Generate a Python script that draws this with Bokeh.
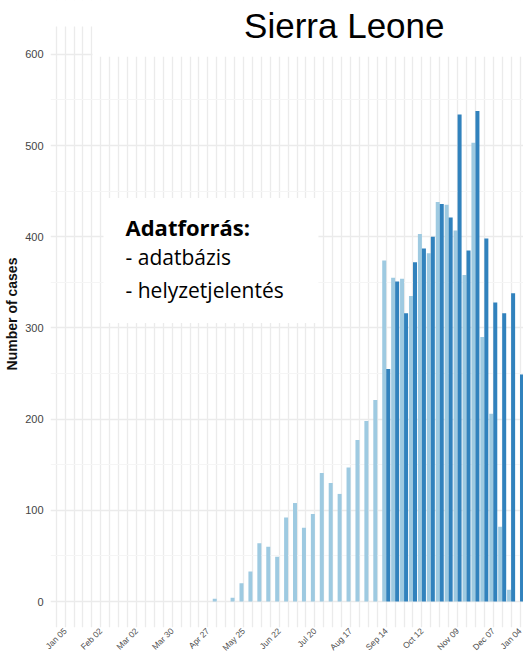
from math import pi
from bokeh.plotting import figure
from bokeh.models import FixedTicker, Range1d, BoxAnnotation, Label, ColumnDataSource
from bokeh.transform import dodge
from bokeh.embed import file_html
from bokeh.resources import INLINE

# ---- data -------------------------------------------------------------
week_labels = ["Jan 05", "Feb 02", "Mar 02", "Mar 30", "Apr 27", "May 25", "Jun 22",
               "Jul 20", "Aug 17", "Sep 14", "Oct 12", "Nov 09", "Dec 07", "Jan 04"]
weeks = list(range(52))          # week 0 = Jan 05 (2014)
database = [0] * 17 + [3, 0, 4, 20, 33, 64, 60, 49, 92, 108, 81, 96, 141, 130, 118, 147,
                       177, 198, 221, 374, 355, 354, 335, 403, 382, 438, 435, 407, 358,
                       503, 290, 206, 82, 13, None]
sitrep = [None] * 36 + [255, 351, 316, 372, 387, 400, 436, 421, 534, 385, 538, 398,
                        328, 316, 338, 249]
y_ticks = [0, 100, 200, 300, 400, 500, 600]
y_minor = [50, 150, 250, 350, 450, 550]
title_text = "Sierra Leone"
legend_title = "Adatforrás:"
legend_items = ["-  adatbázis", "-  helyzetjelentés"]
y_label = "Number of cases"

LIGHT = "#9ecae1"
DARK = "#3182bd"
GRID = "#ebebeb"

X0, X1 = -1.64, 51.39
Y_PANEL_TOP = 630.7
p = figure(width=523, height=659,
           x_range=Range1d(X0, X1), y_range=Range1d(-28.5, 659.1),
           output_backend="svg", toolbar_location=None,
           min_border_left=50, min_border_right=0, min_border_top=0, min_border_bottom=31)
p.outline_line_color = None
p.background_fill_color = "white"

db_src = ColumnDataSource(dict(week=[w for w, v in zip(weeks, database) if v is not None],
                               cases=[v for v in database if v is not None]))
sr_src = ColumnDataSource(dict(week=[w for w, v in zip(weeks, sitrep) if v is not None],
                               cases=[v for v in sitrep if v is not None]))
p.vbar(x=dodge("week", -0.225, range=p.x_range), top="cases", width=0.45, source=db_src,
       fill_color=LIGHT, line_color=None)
p.vbar(x=dodge("week", 0.225, range=p.x_range), top="cases", width=0.45, source=sr_src,
       fill_color=DARK, line_color=None)

# axes
last_tick = 51.3   # "Jan 04" lies just past the right edge; its label is kept at the edge
tick_pos = [4 * k for k in range(len(week_labels) - 1)] + [last_tick]
xa = p.xaxis[0]
xa.ticker = FixedTicker(ticks=tick_pos)
xa.major_label_overrides = {t: lab for t, lab in zip(tick_pos, week_labels)}
xa.major_label_orientation = pi / 4
xa.major_label_text_font = "Liberation Sans"
xa.major_label_text_font_size = "8.5px"
xa.major_label_text_color = "#4d4d4d"
xa.major_label_standoff = 2
xa.major_tick_out = 0
xa.major_tick_in = 0
xa.minor_tick_out = 0
xa.minor_tick_in = 0
xa.axis_line_color = None
xa.major_tick_line_color = None
xa.minor_tick_line_color = None

ya = p.yaxis[0]
ya.ticker = FixedTicker(ticks=y_ticks)
ya.major_label_text_font = "Liberation Sans"
ya.major_label_text_font_size = "11px"
ya.major_label_text_color = "#444444"
ya.major_label_standoff = 7
ya.major_tick_out = 0
ya.major_tick_in = 0
ya.minor_tick_out = 0
ya.minor_tick_in = 0
ya.axis_line_color = None
ya.major_tick_line_color = None
ya.minor_tick_line_color = None
ya.axis_label = y_label
ya.axis_label_text_font = "Liberation Sans"
ya.axis_label_text_font_style = "bold"
ya.axis_label_text_font_size = "14px"
ya.axis_label_text_color = "#111111"
ya.axis_label_standoff = 2

p.xgrid.ticker = FixedTicker(ticks=list(range(-1, 53)))
p.xgrid.grid_line_color = GRID
p.xgrid.grid_line_width = 1.3
p.ygrid.ticker = FixedTicker(ticks=y_ticks, minor_ticks=y_minor)
p.ygrid.grid_line_color = GRID
p.ygrid.grid_line_width = 1.3
p.ygrid.minor_grid_line_color = "#f5f5f5"
p.ygrid.minor_grid_line_width = 1

# blank strip above the panel, and the title panel over the top of the grid
p.add_layout(BoxAnnotation(left=X0 - 1, right=X1 + 1, bottom=Y_PANEL_TOP, top=700,
                           fill_color="white", fill_alpha=1, line_color=None))
p.add_layout(BoxAnnotation(left=3.07, right=X1 + 1, bottom=597.5, top=700,
                           fill_color="white", fill_alpha=1, line_color=None))
p.add_layout(Label(x=31.3, y=632, text=title_text, text_align="center",
                   text_baseline="middle", text_font="Liberation Sans",
                   text_font_size="35px", text_color="black"))

# source box
p.add_layout(BoxAnnotation(left=4.3, right=28.4, bottom=305.5, top=442.4,
                           fill_color="white", fill_alpha=1, line_color=None))
p.add_layout(Label(x=6.77, y=410.7, text=legend_title, text_font="Open Sans",
                   text_font_style="bold", text_font_size="22px", text_color="black",
                   text_baseline="middle"))
p.add_layout(Label(x=6.77, y=377.7, text=legend_items[0], text_font="Open Sans",
                   text_font_size="21px", text_color="black", text_baseline="middle"))
p.add_layout(Label(x=6.77, y=341.7, text=legend_items[1], text_font="Open Sans",
                   text_font_size="21px", text_color="black", text_baseline="middle"))

open("out.html", "w").write(file_html(p, INLINE))
